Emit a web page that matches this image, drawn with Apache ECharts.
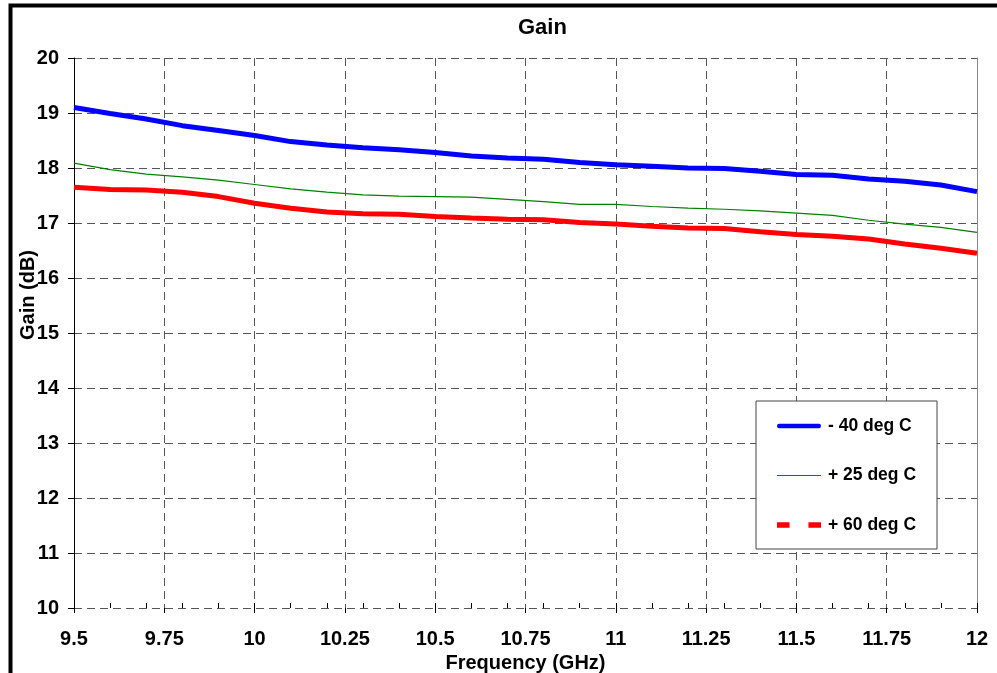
<!DOCTYPE html>
<html>
<head>
<meta charset="utf-8">
<script src="https://cdn.jsdelivr.net/npm/echarts@6/dist/echarts.min.js"></script>
<style>
  html, body { margin: 0; padding: 0; background: #fff; }
  #chart { width: 997px; height: 673px; }
</style>
</head>
<body>
<div id="chart"></div>
<script>
// frequency points (GHz)
const freq = [9.5, 9.6, 9.7, 9.8, 9.9, 10.0, 10.1, 10.2, 10.3, 10.4, 10.5, 10.6, 10.7,
  10.8, 10.9, 11.0, 11.1, 11.2, 11.3, 11.4, 11.5, 11.6, 11.7, 11.8, 11.9, 12.0]

// gain (dB)
const gainM40 = [19.10, 18.99, 18.89, 18.77, 18.68, 18.59, 18.48, 18.42, 18.37, 18.33, 18.28, 18.22, 18.18,
  18.16, 18.10, 18.06, 18.03, 18.00, 17.99, 17.94, 17.88, 17.87, 17.80, 17.76, 17.69, 17.57]
const gainP25 = [18.09, 17.97, 17.89, 17.84, 17.78, 17.70, 17.62, 17.56, 17.51, 17.49, 17.48, 17.47, 17.43,
  17.39, 17.34, 17.34, 17.30, 17.27, 17.25, 17.22, 17.18, 17.14, 17.05, 16.98, 16.92, 16.83]
const gainP60 = [17.65, 17.61, 17.60, 17.56, 17.48, 17.36, 17.27, 17.20, 17.17, 17.16, 17.12, 17.09, 17.07,
  17.06, 17.01, 16.98, 16.94, 16.91, 16.90, 16.84, 16.79, 16.76, 16.71, 16.62, 16.54, 16.45]

const seriesNames = ['- 40 deg C', '+ 25 deg C', '+ 60 deg C']

const font = 'Liberation Sans, Arial, sans-serif'
const pairs = (ys) => freq.map((f, i) => [f, ys[i]])
const gridDash = { color: '#555', type: [8, 5], width: 1 }

const option = {
  animation: false,
  backgroundColor: '#fff',
  title: {
    text: 'Gain',
    left: 513,
    top: 12,
    textStyle: { fontFamily: font, fontWeight: 'bold', fontSize: 22, color: '#000' }
  },
  grid: { left: 74, right: 20, top: 58, bottom: 65, containLabel: false, outerBoundsMode: 'none' },
  legend: {
    orient: 'vertical',
    left: 756,
    top: 401,
    padding: [16, 21, 15, 21],
    itemWidth: 44,
    itemHeight: 14,
    itemGap: 31.5,
    backgroundColor: '#fff',
    borderColor: '#444',
    borderWidth: 1,
    textStyle: { fontFamily: font, fontWeight: 'bold', fontSize: 17.5, color: '#000', padding: [0, 0, 0, 2] },
    data: [
      { name: seriesNames[0], icon: 'path://M2,0H42A2,2 0 0 1 42,4.6H2A2,2 0 0 1 2,0Z' },
      { name: seriesNames[1], icon: 'path://M0,0H44V1.1H0Z' },
      { name: seriesNames[2], icon: 'path://M0,0H8V3.6H0Z M20,0H28V3.6H20Z' }
    ]
  },
  xAxis: [
    {
      type: 'value',
      min: 9.5,
      max: 12,
      interval: 0.25,
      name: 'Frequency (GHz)',
      nameLocation: 'middle',
      nameGap: 39,
      nameTextStyle: { fontFamily: font, fontWeight: 'bold', fontSize: 20, color: '#000' },
      axisLine: { show: false },
      axisTick: { show: true, inside: false, length: 5, lineStyle: { color: '#000' } },
      axisLabel: { margin: 21, fontFamily: font, fontWeight: 'bold', fontSize: 20, color: '#000' },
      splitLine: { show: true, lineStyle: gridDash }
    },
    {
      // minor ticks every 0.1 GHz
      type: 'value',
      position: 'bottom',
      min: 9.5,
      max: 12,
      interval: 0.1,
      axisLine: { show: false },
      axisTick: { show: true, inside: true, length: 5, lineStyle: { color: '#000' } },
      axisLabel: { show: false },
      splitLine: { show: false }
    }
  ],
  yAxis: [
    {
      type: 'value',
      min: 10,
      max: 20,
      interval: 1,
      axisLine: { show: true, lineStyle: { color: '#000', width: 1 } },
      axisTick: { show: true, inside: false, length: 6, lineStyle: { color: '#000' } },
      axisLabel: { margin: 15, fontFamily: font, fontWeight: 'bold', fontSize: 20, color: '#000' },
      splitLine: { show: true, lineStyle: gridDash }
    },
    {
      type: 'value',
      position: 'right',
      min: 10,
      max: 20,
      axisLine: { show: true, lineStyle: { color: '#888', width: 1 } },
      axisTick: { show: false },
      axisLabel: { show: false },
      splitLine: { show: false }
    }
  ],
  graphic: [
    {
      type: 'rect',
      shape: { x: 10.5, y: 5.5, width: 2000, height: 2000 },
      style: { fill: 'none', stroke: '#000', lineWidth: 4 },
      silent: true
    },
    {
      type: 'text',
      x: 28,
      y: 295,
      rotation: Math.PI / 2,
      style: {
        text: 'Gain (dB)',
        fontFamily: font,
        fontWeight: 'bold',
        fontSize: 20,
        fill: '#000',
        align: 'center',
        verticalAlign: 'middle'
      }
    }
  ],
  series: [
    {
      name: seriesNames[0],
      type: 'line',
      symbol: 'none',
      data: pairs(gainM40),
      lineStyle: { color: '#0000ff', width: 5 },
      itemStyle: { color: '#0000ff' }
    },
    {
      name: seriesNames[1],
      type: 'line',
      symbol: 'none',
      data: pairs(gainP25),
      lineStyle: { color: '#008000', width: 1.2 },
      itemStyle: { color: '#008000' }
    },
    {
      name: seriesNames[2],
      type: 'line',
      symbol: 'none',
      data: pairs(gainP60),
      lineStyle: { color: '#ff0000', width: 5 },
      itemStyle: { color: '#ff0000' }
    }
  ]
}

const el = echarts.init(document.getElementById('chart'))
el.setOption(option)
</script>
</body>
</html>
